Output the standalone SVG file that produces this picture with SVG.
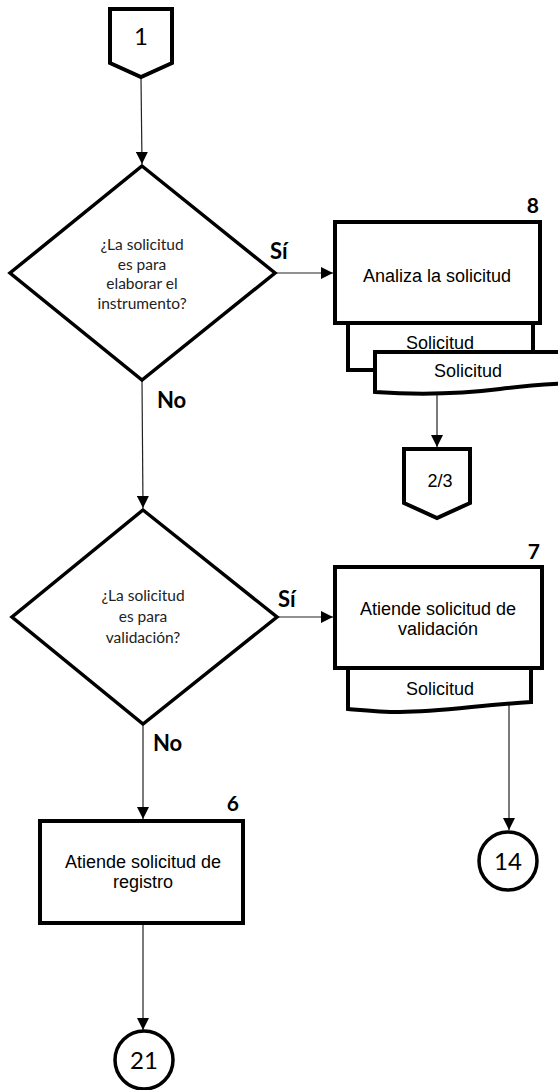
<svg xmlns="http://www.w3.org/2000/svg" width="558" height="1090" viewBox="0 0 558 1090">
  <style>
    .shape { fill: #fff; stroke: #000; stroke-width: 4; stroke-linejoin: miter; }
    .thin { fill: #fff; stroke: #000; stroke-width: 3.5; }
    .conn { fill: none; stroke: #222; stroke-width: 1.2; }
    .q { font-family: Lato, "Open Sans", sans-serif; font-size: 15.5px; fill: #222; text-anchor: middle; }
    .lbl { font-family: Lato, "Open Sans", sans-serif; font-size: 22px; font-weight: bold; fill: #000; }
    .num { font-family: Lato, "Open Sans", sans-serif; font-size: 21px; font-weight: bold; fill: #000; text-anchor: end; }
    .ref { font-family: Lato, "Open Sans", sans-serif; font-size: 24px; fill: #000; text-anchor: middle; }
    .box { font-family: "Liberation Sans", Arial, sans-serif; font-size: 18px; fill: #000; text-anchor: middle; }
  </style>
  <defs>
    <marker id="arrow" markerWidth="12" markerHeight="12" refX="12" refY="6" orient="auto" markerUnits="userSpaceOnUse">
      <path d="M0,0 L12,6 L0,12 z" fill="#000"/>
    </marker>
  </defs>

  <!-- connectors -->
  <g id="connectors">
    <line class="conn" x1="141" y1="78" x2="142" y2="164" marker-end="url(#arrow)"/>
    <line class="conn" x1="275" y1="273" x2="333" y2="273" marker-end="url(#arrow)"/>
    <line class="conn" x1="142" y1="381" x2="143" y2="508" marker-end="url(#arrow)"/>
    <line class="conn" x1="437" y1="393" x2="437" y2="447" marker-end="url(#arrow)"/>
    <line class="conn" x1="277" y1="617" x2="333" y2="617" marker-end="url(#arrow)"/>
    <line class="conn" x1="143" y1="726" x2="143" y2="819" marker-end="url(#arrow)"/>
    <line class="conn" x1="509" y1="704" x2="509" y2="830" marker-end="url(#arrow)"/>
    <line class="conn" x1="143" y1="925" x2="143" y2="1030" marker-end="url(#arrow)"/>
    <text class="lbl" x="270" y="259">Sí</text>
    <text class="lbl" x="157" y="408">No</text>
    <text class="lbl" x="278" y="607">Sí</text>
    <text class="lbl" x="153" y="751">No</text>
  </g>

  <!-- off-page connector 1 -->
  <g id="node-off1">
    <path class="shape" d="M110,9 H172 V63 L141,77 L110,63 Z" stroke-width="4.5"/>
    <text class="ref" x="141" y="45" font-size="22">1</text>
  </g>

  <!-- decision: elaborar el instrumento -->
  <g id="node-dec1">
    <path class="thin" d="M142,166 L275,273 L142,380 L10,273 Z"/>
    <text class="q" x="142" y="250">¿La solicitud</text>
    <text class="q" x="142" y="269.5">es para</text>
    <text class="q" x="142" y="289">elaborar el</text>
    <text class="q" x="142" y="308.5">instrumento?</text>
  </g>

  <!-- step 8 -->
  <g id="node-step8">
    <path class="shape" d="M348,323 H533 V370 H348 Z"/>
    <text class="box" x="440" y="349">Solicitud</text>
    <path class="shape" d="M375,352 H600 V382 C560,383 530,385 500,389 C460,394 420,395 375,392 Z"/>
    <text class="box" x="468" y="377">Solicitud</text>
    <rect class="shape" x="335" y="222" width="205" height="101"/>
    <text class="box" x="437" y="282">Analiza la solicitud</text>
    <text class="num" x="539" y="213">8</text>
  </g>

  <!-- off-page connector 2/3 -->
  <g id="node-off23">
    <path class="shape" d="M404,449 H470 V503 L437,518 L404,503 Z"/>
    <text class="box" x="440" y="487" font-size="21">2/3</text>
  </g>

  <!-- decision: validación -->
  <g id="node-dec2">
    <path class="thin" d="M143,510 L277,617 L143,724 L12,617 Z"/>
    <text class="q" x="143" y="601">¿La solicitud</text>
    <text class="q" x="143" y="622">es para</text>
    <text class="q" x="143" y="643">validación?</text>
  </g>

  <!-- step 7 -->
  <g id="node-step7">
    <path class="shape" d="M348,668 H531 V702 C480,705 440,712 400,712 C380,712 360,710 348,709 Z"/>
    <text class="box" x="440" y="695">Solicitud</text>
    <rect class="shape" x="335" y="567" width="207" height="101"/>
    <text class="box" x="438" y="615">Atiende solicitud de</text>
    <text class="box" x="438" y="635">validación</text>
    <text class="num" x="540" y="559">7</text>
  </g>

  <!-- step 6 -->
  <g id="node-step6">
    <rect class="shape" x="40" y="821" width="203" height="102"/>
    <text class="box" x="143" y="868">Atiende solicitud de</text>
    <text class="box" x="143" y="888">registro</text>
    <text class="num" x="239" y="811">6</text>
  </g>

  <!-- on-page connector 14 -->
  <g id="node-ref14">
    <circle class="thin" cx="508" cy="861" r="29"/>
    <text class="ref" x="508" y="870">14</text>
  </g>

  <!-- on-page connector 21 -->
  <g id="node-ref21">
    <circle class="thin" cx="144" cy="1060" r="29"/>
    <text class="ref" x="144" y="1069">21</text>
  </g>
</svg>
